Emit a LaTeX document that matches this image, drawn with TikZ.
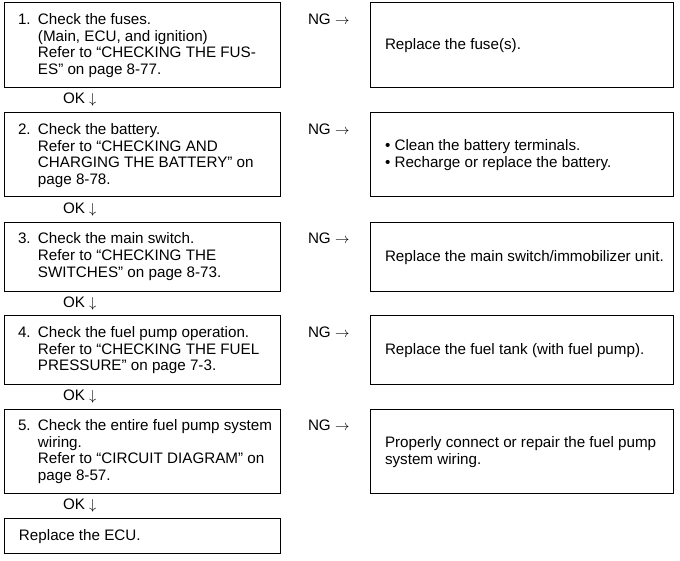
\documentclass[tikz,border=0pt]{standalone}
\usepackage{fontspec}
\setmainfont{Liberation Sans}
\begin{document}
\begin{tikzpicture}[x=1pt,y=-1pt,
  every node/.style={font=\fontsize{15.2}{16.7}\selectfont, inner sep=0pt, outer sep=0pt},
  lbox/.style={draw, line width=1pt, anchor=north west, minimum width=276pt},
  rbox/.style={draw, line width=1pt, anchor=north west, minimum width=303pt},
  txt/.style={anchor=base west, align=left}]
\useasboundingbox (0,0) rectangle (680,561);
% left boxes
\node[lbox, minimum height=85pt] (b1) at (4,3) {};
\node[lbox, minimum height=84pt] (b2) at (4,113) {};
\node[lbox, minimum height=69pt] (b3) at (4,222.5) {};
\node[lbox, minimum height=68pt] (b4) at (4,316) {};
\node[lbox, minimum height=84pt] (b5) at (4,409) {};
\node[lbox, minimum height=35pt] (b6) at (4,518) {};
% right boxes
\node[rbox, minimum height=85pt] (r1) at (370,3) {};
\node[rbox, minimum height=84pt] (r2) at (370,113) {};
\node[rbox, minimum height=69pt] (r3) at (370,222.5) {};
\node[rbox, minimum height=68pt] (r4) at (370,316) {};
\node[rbox, minimum height=84pt] (r5) at (370,409) {};
% left texts
\node[txt] (t1) at (18,24.5) {\begin{tabular}[t]{@{}p{20pt}@{}l@{}}1. & Check the fuses.\\ & (Main, ECU, and ignition)\\ & Refer to “CHECKING THE FUS-\\ & ES” on page 8-77.\end{tabular}};
\node[txt] (t2) at (18,134.5) {\begin{tabular}[t]{@{}p{20pt}@{}l@{}}2. & Check the battery.\\ & Refer to “CHECKING AND\\ & CHARGING THE BATTERY” on\\ & page 8-78.\end{tabular}};
\node[txt] (t3) at (18,244) {\begin{tabular}[t]{@{}p{20pt}@{}l@{}}3. & Check the main switch.\\ & Refer to “CHECKING THE\\ & SWITCHES” on page 8-73.\end{tabular}};
\node[txt] (t4) at (18,337.5) {\begin{tabular}[t]{@{}p{20pt}@{}l@{}}4. & Check the fuel pump operation.\\ & Refer to “CHECKING THE FUEL\\ & PRESSURE” on page 7-3.\end{tabular}};
\node[txt] (t5) at (18,430.5) {\begin{tabular}[t]{@{}p{20pt}@{}l@{}}5. & Check the entire fuel pump system\\ & wiring.\\ & Refer to “CIRCUIT DIAGRAM” on\\ & page 8-57.\end{tabular}};
\node[txt] (t6) at (19,540) {Replace the ECU.};
% right texts
\node[txt] (s1) at (385,50) {Replace the fuse(s).};
\node[txt] (s2) at (385,151) {\begin{tabular}[t]{@{}l@{}}• Clean the battery terminals.\\• Recharge or replace the battery.\end{tabular}};
\node[txt] (s3) at (385,261.5) {Replace the main switch/immobilizer unit.};
\node[txt] (s4) at (385,354.5) {Replace the fuel tank (with fuel pump).};
\node[txt] (s5) at (385,447.5) {\begin{tabular}[t]{@{}l@{}}Properly connect or repair the fuel pump\\system wiring.\end{tabular}};
% NG labels
\node[txt] (n1) at (308,24.5) {NG $\rightarrow$};
\node[txt] (n2) at (308,134.5) {NG $\rightarrow$};
\node[txt] (n3) at (308,244) {NG $\rightarrow$};
\node[txt] (n4) at (308,337.5) {NG $\rightarrow$};
\node[txt] (n5) at (308,430.5) {NG $\rightarrow$};
% OK labels
\node[txt] (o1) at (63,104) {OK $\downarrow$};
\node[txt] (o2) at (63,213.5) {OK $\downarrow$};
\node[txt] (o3) at (63,307.5) {OK $\downarrow$};
\node[txt] (o4) at (63,400.5) {OK $\downarrow$};
\node[txt] (o5) at (63,509.5) {OK $\downarrow$};
\end{tikzpicture}
\end{document}
